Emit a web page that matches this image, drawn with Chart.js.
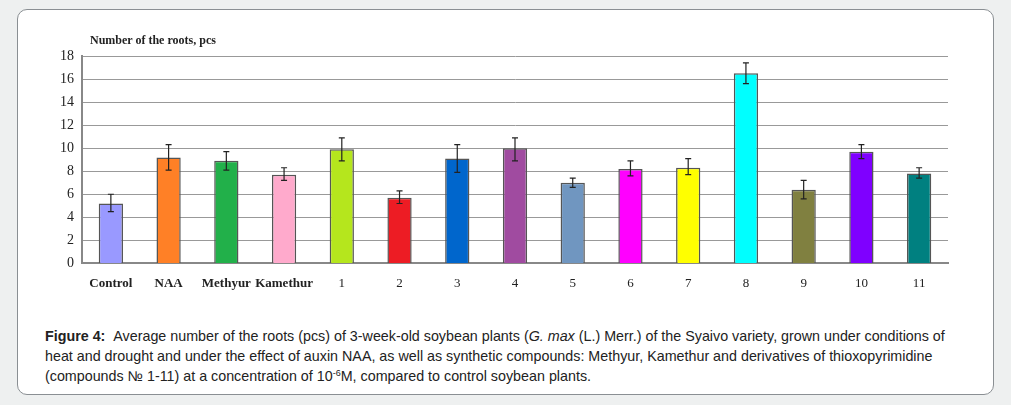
<!DOCTYPE html>
<html><head><meta charset="utf-8">
<script src="https://cdn.jsdelivr.net/npm/chart.js@4"></script>
<style>
body{margin:0;background:#eef0f0;width:1011px;height:405px;position:relative;font-family:Arial,"Liberation Sans",sans-serif;}
#box{position:absolute;left:17px;top:9px;width:975px;height:384px;background:#fff;border:1px solid #8a8f93;border-radius:10px;}
#wrap{position:absolute;left:45px;top:20px;width:915px;height:283px;}
#ytitle{position:absolute;left:90px;top:33px;font:bold 12px "Liberation Serif",serif;color:#222;}
#cap{position:absolute;left:45px;top:326px;width:920px;font-size:14.3px;line-height:20px;color:#222;}
sup{font-size:9px;line-height:0;vertical-align:5px;}
</style></head><body>
<div id="box"></div>
<div id="wrap"><canvas id="c"></canvas></div>
<div id="ytitle">Number of the roots, pcs</div>
<div id="cap"><b>Figure 4:</b> &nbsp;Average number of the roots (pcs) of 3-week-old soybean plants (<i>G. max</i> (L.) Merr.) of the Syaivo variety, grown under conditions of heat and drought and under the effect of auxin NAA, as well as synthetic compounds: Methyur, Kamethur and derivatives of thioxopyrimidine (compounds № 1-11) at a concentration of 10<sup>-6</sup>M, compared to control soybean plants.</div>
<script>
const categories = ["Control","NAA","Methyur","Kamethur","1","2","3","4","5","6","7","8","9","10","11"];
const means = [5.2, 9.2, 8.9, 7.7, 9.9, 5.7, 9.1, 10.0, 7.0, 8.2, 8.3, 16.5, 6.4, 9.7, 7.8];
const errLow = [4.5, 8.1, 8.1, 7.2, 8.9, 5.2, 7.9, 8.9, 6.6, 7.6, 7.7, 15.6, 5.6, 9.1, 7.4];
const errHigh = [6.0, 10.3, 9.7, 8.3, 10.9, 6.3, 10.3, 10.9, 7.4, 8.9, 9.1, 17.4, 7.2, 10.3, 8.3];
const colors = ["#9999ff","#ff8026","#22b04a","#ffaacc","#b5e61d","#ed1c24","#0066cc","#a04ba0","#7096c0","#ff00ff","#ffff00","#00ffff","#808040","#7f00ff","#008080"];
const yTicks = [0,2,4,6,8,10,12,14,16,18];

const errorBars = {
  id: 'errorBars',
  afterDatasetsDraw(chart) {
    const ctx = chart.ctx, x = chart.scales.x, y = chart.scales.y;
    ctx.save();
    ctx.strokeStyle = '#222'; ctx.lineWidth = 1.2;
    categories.forEach((c, i) => {
      const px = x.getPixelForValue(i);
      const top = y.getPixelForValue(errHigh[i]), bot = y.getPixelForValue(errLow[i]);
      ctx.beginPath();
      ctx.moveTo(px, top); ctx.lineTo(px, bot);
      ctx.moveTo(px-3, top); ctx.lineTo(px+3, top);
      ctx.moveTo(px-3, bot); ctx.lineTo(px+3, bot);
      ctx.stroke();
    });
    ctx.restore();
  }
};

new Chart(document.getElementById('c'), {
  type: 'bar',
  data: {
    labels: categories,
    datasets: [{
      data: means,
      backgroundColor: colors,
      borderColor: '#555',
      borderWidth: 1.5,
      categoryPercentage: 1,
      barPercentage: 0.42
    }]
  },
  options: {
    responsive: true,
    maintainAspectRatio: false,
    animation: false,
    layout: {padding: {top: 36, right: 12, left: 0, bottom: 0}},
    plugins: {legend: {display: false}, tooltip: {enabled: false}},
    scales: {
      x: {
        grid: {display: false, drawTicks: false},
        border: {color: '#888', width: 2},
        ticks: {color: '#222', padding: 12, maxRotation: 0, autoSkip: false,
          font: ctx => ({family: 'Liberation Serif', size: 13, weight: ctx.index < 4 ? 'bold' : 'normal'})}
      },
      y: {
        min: 0, max: 18,
        afterBuildTicks: s => { s.ticks = yTicks.map(v => ({value: v})); },
        afterFit: s => { s.width = 37; },
        grid: {color: '#999', drawTicks: false},
        border: {color: '#888', width: 2},
        ticks: {color: '#222', padding: 8, font: {family: 'Liberation Serif', size: 14}}
      }
    }
  },
  plugins: [errorBars]
});
</script>
</body></html>
